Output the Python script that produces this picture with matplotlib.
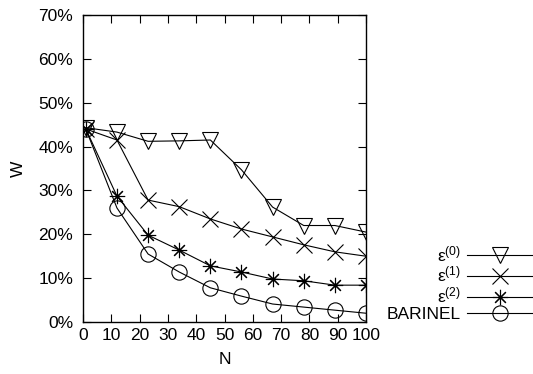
import numpy as np
import matplotlib
matplotlib.use("Agg")
import matplotlib.pyplot as plt
from matplotlib.ticker import FuncFormatter

plt.rcParams['font.family'] = ['Liberation Sans', 'DejaVu Sans']
plt.rcParams['mathtext.fontset'] = 'custom'
plt.rcParams['mathtext.rm'] = 'Liberation Sans'
plt.rcParams['mathtext.it'] = 'Liberation Sans'

# data (W in %)
n_vals = [1, 12, 23, 34, 45, 56, 67, 78, 89, 100]
eps0 = [44.3, 43.3, 41.2, 41.3, 41.5, 34.7, 26.2, 22.0, 22.0, 20.5]
eps1 = [44.0, 41.5, 27.8, 26.3, 23.5, 21.2, 19.4, 17.6, 16.0, 15.0]
eps2 = [44.0, 28.7, 19.8, 16.4, 12.8, 11.4, 9.8, 9.4, 8.4, 8.4]
barinel = [44.0, 26.0, 15.5, 11.4, 7.8, 5.9, 4.1, 3.4, 2.7, 2.0]

labels = ["ε$^{(0)}$", "ε$^{(1)}$", "ε$^{(2)}$", "BARINEL"]
markers = ["v", "x", (8, 2, 0), "o"]
series = [eps0, eps1, eps2, barinel]

fig = plt.figure(figsize=(5.33, 3.74), dpi=100)
ax = fig.add_axes([83 / 533, 52 / 374, 283 / 533, 307 / 374])

for vals, lab, mk in zip(series, labels, markers):
    ax.plot(n_vals, vals, color="black", lw=0.8, marker=mk, ms=11,
            mfc="none", mec="black", mew=0.8, label=lab)

ax.set_xlim(0, 100)
ax.set_ylim(0, 70)
ax.set_xticks(np.arange(0, 101, 10))
ax.set_yticks(np.arange(0, 71, 10))
ax.yaxis.set_major_formatter(FuncFormatter(lambda v, p: f"{v:.0f}%"))
ax.tick_params(direction="in", length=5.5, width=0.8, top=True, right=True,
               labelsize=12.5)
ax.tick_params(axis="y", pad=7)
ax.tick_params(axis="x", pad=4)
for s in ax.spines.values():
    s.set_linewidth(1.0)

ax.set_xlabel("N", fontsize=12.5, labelpad=7)
ax.set_ylabel("W", fontsize=12.5, labelpad=9)

fig.legend(loc="lower right", bbox_to_anchor=(1.0, 0.14), frameon=False,
           markerfirst=False, fontsize=12.5, handlelength=3.8,
           handletextpad=0.35, labelspacing=0.05, borderpad=0,
           borderaxespad=0)

fig.savefig("out.png", dpi=100)
